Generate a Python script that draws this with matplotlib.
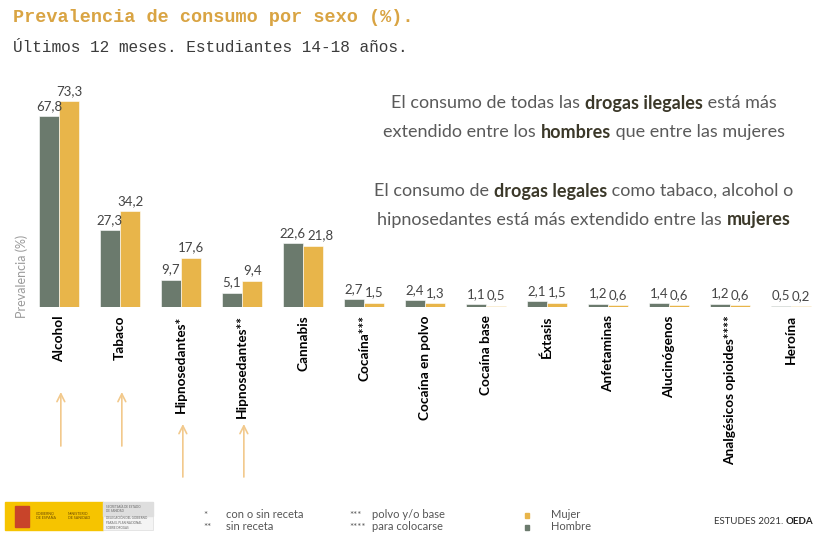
import numpy as np
import matplotlib
matplotlib.use('Agg')
import matplotlib.pyplot as plt
from matplotlib.patches import Rectangle

# data (ESTUDES 2021)
categories = ["Alcohol", "Tabaco", "Hipnosedantes*", "Hipnosedantes**", "Cannabis",
              "Cocaína***", "Cocaína en polvo", "Cocaína base", "Éxtasis",
              "Anfetaminas", "Alucinógenos", "Analgésicos opioides****", "Heroína"]
hombre = [67.8, 27.3, 9.7, 5.1, 22.6, 2.7, 2.4, 1.1, 2.1, 1.2, 1.4, 1.2, 0.5]
mujer = [73.3, 34.2, 17.6, 9.4, 21.8, 1.5, 1.3, 0.5, 1.5, 0.6, 0.6, 0.6, 0.2]
arrow_cats = [0, 1, 2, 3]

C_HOMBRE = '#6b7a6d'
C_MUJER = '#e8b54a'
C_ARROW = '#f2c98c'
C_TEXT = '#5a5a5a'
C_BOLD = '#3b3829'
FONT = 'Lato'

plt.rcParams['font.family'] = [FONT, 'DejaVu Sans']

W, H = 815, 533
fig = plt.figure(figsize=(W / 100, H / 100), dpi=100)


def fx(px):
    return px / W


def fy(py):
    return 1 - py / H


ax = fig.add_axes([fx(28.5), fy(307), fx(787), fy(93.4) - fy(307)])
x = np.arange(len(categories))
bw = 0.33
b1 = ax.bar(x - bw / 2, hombre, bw, color=C_HOMBRE, edgecolor='white', linewidth=0.4)
b2 = ax.bar(x + bw / 2, mujer, bw, color=C_MUJER, edgecolor='white', linewidth=0.4)

for k, (bars, vals) in enumerate(((b1, hombre), (b2, mujer))):
    for i, (b, v) in enumerate(zip(bars, vals)):
        # female label nudged right when it would touch the male one
        dx = 5 if (k == 1 and abs(v - hombre[i]) < 3 and v > 10) else 0
        ax.annotate(f"{v:.1f}".replace('.', ','), (b.get_x() + b.get_width() / 2, v),
                    xytext=(dx, 3), textcoords='offset points', ha='center', va='bottom',
                    fontsize=9.5, color='#444444')

ax.set_xlim(-0.5, 12.4)
ax.set_ylim(0, 76)
ax.set_yticks([])
ax.set_xticks(x)
ax.set_xticklabels(categories, rotation=90, fontsize=9.8, fontweight='bold', va='top')
ax.tick_params(axis='x', length=0, pad=6)
for s in ax.spines.values():
    s.set_visible(False)

fig.text(fx(22), fy(276), 'Prevalencia (%)', rotation=90, ha='center', va='center',
         fontsize=9, color='#9a9a9a')

# arrows under the legal drugs
for i in arrow_cats:
    y0, y1 = (446, 392) if i < 2 else (477, 424)
    ax.annotate('', xy=(i + 0.03, fy(y1)), xytext=(i + 0.03, fy(y0)),
                xycoords=('data', 'figure fraction'), textcoords=('data', 'figure fraction'),
                arrowprops=dict(arrowstyle='->', color=C_ARROW, lw=1.2,
                                mutation_scale=14, shrinkA=0, shrinkB=0),
                annotation_clip=False)

# titles
fig.text(fx(13), fy(18), 'Prevalencia de consumo por sexo (%).', family='Liberation Mono',
         fontweight='bold', fontsize=13.3, color='#d9a443', va='center')
fig.text(fx(13), fy(48), 'Últimos 12 meses. Estudiantes 14-18 años.', family='Liberation Mono',
         fontsize=11.6, color='#3c3c3c', va='center')


def rich_line(cx, cy, parts, size=13, align='center', color=C_TEXT, bold_color=C_BOLD):
    renderer = fig.canvas.get_renderer()
    texts = []
    for s, bold in parts:
        t = fig.text(0, fy(cy), s, fontsize=size, va='center', ha='left',
                     fontweight='bold' if bold else 'normal',
                     color=bold_color if bold else color)
        texts.append(t)
    widths = [t.get_window_extent(renderer).width for t in texts]
    start = cx - sum(widths) / 2 if align == 'center' else cx
    for t, w in zip(texts, widths):
        t.set_x(fx(start))
        start += w


rich_line(584, 103, [("El consumo de todas las ", False), ("drogas ilegales", True),
                     (" está más", False)])
rich_line(584, 132, [("extendido entre los ", False), ("hombres", True),
                     (" que entre las mujeres", False)])
rich_line(584, 191, [("El consumo de ", False), ("drogas legales", True),
                     (" como tabaco, alcohol o", False)])
rich_line(584, 220, [("hipnosedantes está más extendido entre las ", False),
                     ("mujeres", True)])

# footer: logo block
fig.patches.append(Rectangle((fx(5), fy(530)), fx(98), fy(502) - fy(530),
                             transform=fig.transFigure, color='#f6c400'))
fig.patches.append(Rectangle((fx(15), fy(527)), fx(14), fy(506) - fy(527),
                             transform=fig.transFigure, color='#c8442a'))
fig.patches.append(Rectangle((fx(103), fy(530)), fx(50), fy(502) - fy(530),
                             transform=fig.transFigure, facecolor='#f4f4f4',
                             edgecolor='#dddddd', lw=0.5))
fig.patches.append(Rectangle((fx(103), fy(516)), fx(50), fy(502) - fy(516),
                             transform=fig.transFigure, color='#dedede'))
fig.text(fx(36), fy(516), 'GOBIERNO\nDE ESPAÑA', fontsize=2.6, color='#6b4a00', va='center')
fig.text(fx(68), fy(516), 'MINISTERIO\nDE SANIDAD', fontsize=2.6, color='#6b4a00', va='center')
fig.text(fx(106), fy(509), 'SECRETARÍA DE ESTADO\nDE SANIDAD', fontsize=2.2, color='#666666',
         va='center')
fig.text(fx(106), fy(523), 'DELEGACIÓN DEL GOBIERNO\nPARA EL PLAN NACIONAL\nSOBRE DROGAS',
         fontsize=2.2, color='#666666', va='center')

# footer: notes and legend
notes = [("*", "con o sin receta", 203, 515), ("**", "sin receta", 203, 527),
         ("***", "polvo y/o base", 349, 515), ("****", "para colocarse", 349, 527)]
for mark, txt, px, py in notes:
    fig.text(fx(px), fy(py), mark, fontsize=7, color='#555555', va='center')
    fig.text(fx(px + 23), fy(py), txt, fontsize=8, color='#555555', va='center')

for lbl, col, py in (("Mujer", C_MUJER, 515), ("Hombre", C_HOMBRE, 527)):
    fig.patches.append(Rectangle((fx(525), fy(py + 2.5)), fx(4), fy(py - 2.5) - fy(py + 2.5),
                                 transform=fig.transFigure, color=col))
    fig.text(fx(551), fy(py), lbl, fontsize=8, color='#555555', va='center')

rich_line(714, 522, [("ESTUDES 2021. ", False), ("OEDA", True)], size=7, align='left',
          color='#333333', bold_color='#222222')

fig.savefig('out.png', dpi=100)
